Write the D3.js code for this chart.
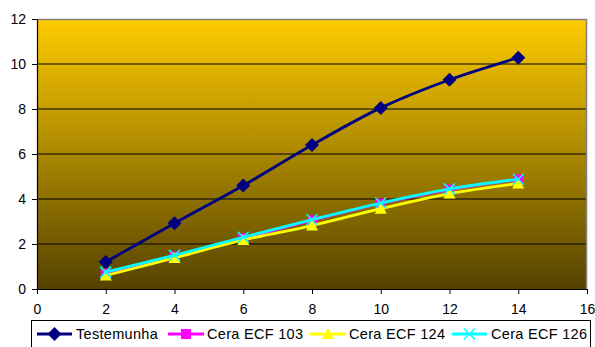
<!DOCTYPE html>
<html>
<head>
<meta charset="utf-8">
<script src="https://cdn.jsdelivr.net/npm/d3@7"></script>
<style>
  html, body { margin: 0; padding: 0; background: #fff; }
  svg { display: block; font-family: "Liberation Sans", Arial, sans-serif; }
</style>
</head>
<body>
<svg id="chart" width="595" height="347"></svg>
<script>
// Days of evaluation
const days = [2, 4, 6, 8, 10, 12, 14];

// Series values
const testemunha = [1.2, 2.92, 4.6, 6.4, 8.05, 9.3, 10.28];
const ceraEcf103 = [0.68, 1.45, 2.25, 3.05, 3.8, 4.42, 4.87];
const ceraEcf124 = [0.6, 1.38, 2.18, 2.82, 3.57, 4.24, 4.69];
const ceraEcf126 = [0.75, 1.5, 2.3, 3.08, 3.82, 4.45, 4.88];

// Axis ticks
const xTicks = [0, 2, 4, 6, 8, 10, 12, 14, 16];
const yTicks = [0, 2, 4, 6, 8, 10, 12];

const series = [
  { name: "Testemunha", values: testemunha, color: "#000080", marker: "diamond" },
  { name: "Cera ECF 103", values: ceraEcf103, color: "#FF00FF", marker: "square" },
  { name: "Cera ECF 124", values: ceraEcf124, color: "#FFFF00", marker: "triangle" },
  { name: "Cera ECF 126", values: ceraEcf126, color: "#00FFFF", marker: "cross" }
];

const svg = d3.select("#chart");
const plot = { left: 37, right: 587, top: 19, bottom: 289 };

const x = d3.scaleLinear().domain([0, 16]).range([plot.left, plot.right]);
const y = d3.scaleLinear().domain([0, 12]).range([plot.bottom, plot.top]);

// Background gradient of the plot area
const defs = svg.append("defs");
const grad = defs.append("linearGradient")
  .attr("id", "bg").attr("x1", 0).attr("y1", 0).attr("x2", 0).attr("y2", 1);
grad.append("stop").attr("offset", "0%").attr("stop-color", "#FFCC00");
grad.append("stop").attr("offset", "100%").attr("stop-color", "#554200");

svg.append("rect")
  .attr("x", plot.left).attr("y", plot.top)
  .attr("width", plot.right - plot.left).attr("height", plot.bottom - plot.top)
  .attr("fill", "url(#bg)");

// Gridlines
svg.append("g")
  .selectAll("line")
  .data(yTicks.filter(d => d > 0 && d < 12))
  .join("line")
  .attr("x1", plot.left).attr("x2", plot.right)
  .attr("y1", d => y(d)).attr("y2", d => y(d))
  .attr("stroke", "#000").attr("stroke-width", 1);

// Top and right border
svg.append("path")
  .attr("d", `M${plot.left},${plot.top + 0.5}H${plot.right - 0.5}V${plot.bottom}`)
  .attr("fill", "none").attr("stroke", "#808080").attr("stroke-width", 1.5);

// Axes
const xAxis = d3.axisBottom(x).tickValues(xTicks).tickSize(5).tickPadding(10).tickSizeOuter(0);
const yAxis = d3.axisLeft(y).tickValues(yTicks).tickSize(5).tickPadding(6).tickSizeOuter(0);

const gx = svg.append("g").attr("transform", `translate(0,${plot.bottom})`).call(xAxis);
const gy = svg.append("g").attr("transform", `translate(${plot.left},0)`).call(yAxis);

[gx, gy].forEach(g => {
  g.selectAll("path.domain").attr("stroke", "#000").attr("stroke-width", 1.2);
  g.selectAll(".tick line").attr("stroke", "#000");
  g.selectAll("text").attr("font-size", 14).attr("fill", "#000")
    .attr("font-family", "Liberation Sans, Arial, sans-serif");
});

// Marker shapes
function drawMarker(g, type, color, cx, cy, s) {
  if (type === "diamond") {
    g.append("path")
      .attr("d", `M${cx},${cy - s}L${cx + s},${cy}L${cx},${cy + s}L${cx - s},${cy}Z`)
      .attr("fill", color);
  } else if (type === "square") {
    g.append("rect").attr("x", cx - s).attr("y", cy - s)
      .attr("width", 2 * s).attr("height", 2 * s).attr("fill", color);
  } else if (type === "triangle") {
    g.append("path")
      .attr("d", `M${cx},${cy - s - 1}L${cx + s + 1},${cy + s}L${cx - s - 1},${cy + s}Z`)
      .attr("fill", color);
  } else if (type === "cross") {
    g.append("path")
      .attr("d", `M${cx - s},${cy - s}L${cx + s},${cy + s}M${cx + s},${cy - s}L${cx - s},${cy + s}`)
      .attr("stroke", color).attr("stroke-width", 1.5).attr("fill", "none");
  }
}

const markerSize = { diamond: 7, square: 5, triangle: 5, cross: 5.5 };

const line = d3.line()
  .x((d, i) => x(days[i]))
  .y(d => y(d))
  .curve(d3.curveCatmullRom.alpha(0.5));

series.forEach(s => {
  const g = svg.append("g");
  g.append("path")
    .attr("d", line(s.values))
    .attr("fill", "none")
    .attr("stroke", s.color)
    .attr("stroke-width", 2.8);
  s.values.forEach((v, i) => drawMarker(g, s.marker, s.color, x(days[i]), y(v), markerSize[s.marker]));
});

// Legend
const legend = svg.append("g");
legend.append("rect")
  .attr("x", 31.5).attr("y", 320.5).attr("width", 559).attr("height", 30)
  .attr("fill", "#fff").attr("stroke", "#000").attr("stroke-width", 1);

const legendItems = [
  { lx1: 37, lx2: 72, tx: 76 },
  { lx1: 168, lx2: 204, tx: 207 },
  { lx1: 310, lx2: 346, tx: 349 },
  { lx1: 452, lx2: 487, tx: 491 }
];
const ly = 334;
series.forEach((s, i) => {
  const it = legendItems[i];
  legend.append("line")
    .attr("x1", it.lx1).attr("x2", it.lx2).attr("y1", ly).attr("y2", ly)
    .attr("stroke", s.color).attr("stroke-width", 2.8);
  drawMarker(legend, s.marker, s.color, (it.lx1 + it.lx2) / 2, ly, markerSize[s.marker]);
  legend.append("text")
    .attr("x", it.tx).attr("y", ly + 5)
    .attr("font-size", 14.5)
    .attr("letter-spacing", 0.3)
    .attr("fill", "#000")
    .text(s.name);
});
</script>
</body>
</html>
